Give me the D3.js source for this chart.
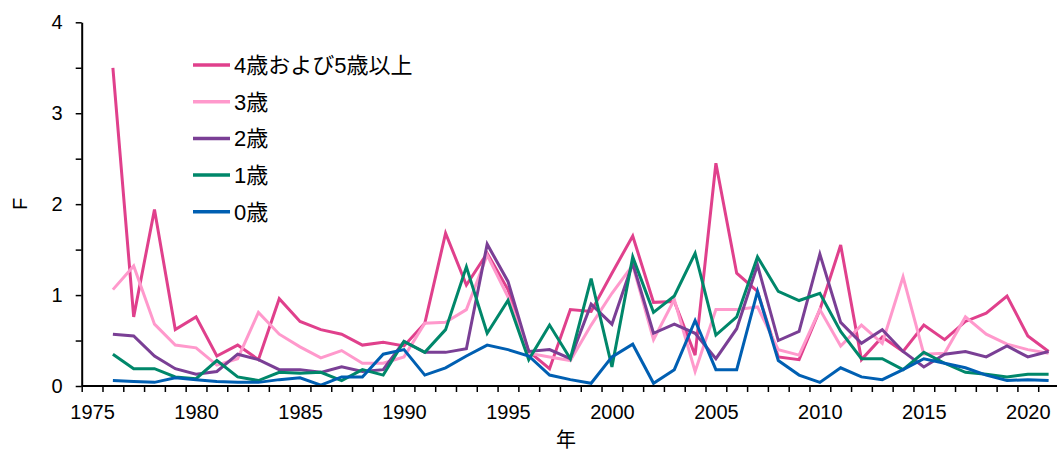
<!DOCTYPE html>
<html>
<head>
<meta charset="utf-8">
<script src="https://cdn.jsdelivr.net/npm/d3@7"></script>
<style>
  html, body { margin: 0; padding: 0; background: #fff; }
  svg { display: block; }
  text { font-family: "Liberation Sans", Arial, "Noto Sans CJK JP", sans-serif; fill: #000; }
</style>
</head>
<body>
<svg id="chart" width="1057" height="454"></svg>
<script>
// ---- data ----
const years = d3.range(1976, 2022);
const seriesNames = ["4歳および5歳以上", "3歳", "2歳", "1歳", "0歳"];
const age4plus = [3.50,0.76,1.94,0.62,0.76,0.33,0.45,0.29,0.96,0.71,0.62,0.57,0.45,0.48,0.44,
  0.69,1.68,1.11,1.46,1.06,0.38,0.19,0.84,0.82,1.24,1.65,0.92,0.93,0.34,2.45,1.24,1.04,0.32,0.29,0.84,
  1.55,0.29,0.54,0.38,0.67,0.51,0.71,0.80,0.99,0.55,0.38];
const age3 = [1.06,1.32,0.68,0.45,0.42,0.23,0.30,0.81,0.57,0.43,0.31,0.39,0.25,0.25,0.32,
  0.69,0.70,0.84,1.44,0.98,0.36,0.32,0.28,0.67,1.02,1.33,0.51,0.95,0.16,0.84,0.84,0.87,0.40,0.34,0.84,
  0.44,0.67,0.47,1.20,0.35,0.36,0.76,0.57,0.46,0.40,0.36];
const age2 = [0.57,0.55,0.33,0.19,0.13,0.16,0.35,0.29,0.18,0.18,0.15,0.21,0.16,0.18,0.49,
  0.37,0.37,0.41,1.56,1.15,0.38,0.40,0.30,0.90,0.68,1.35,0.58,0.68,0.58,0.30,0.63,1.33,0.50,0.60,1.45,
  0.70,0.47,0.62,0.38,0.21,0.35,0.38,0.32,0.44,0.32,0.38];
const age1 = [0.35,0.19,0.19,0.10,0.08,0.28,0.10,0.06,0.15,0.14,0.15,0.06,0.18,0.12,0.49,
  0.37,0.62,1.31,0.58,0.94,0.29,0.67,0.30,1.18,0.21,1.42,0.81,0.99,1.46,0.56,0.76,1.42,1.04,0.94,1.02,
  0.60,0.30,0.30,0.18,0.37,0.25,0.15,0.13,0.10,0.13,0.13];
const age0 = [0.06,0.05,0.04,0.09,0.07,0.05,0.04,0.04,0.07,0.09,0.01,0.10,0.10,0.35,0.40,
  0.12,0.20,0.33,0.45,0.40,0.33,0.12,0.07,0.03,0.32,0.46,0.03,0.18,0.72,0.18,0.18,1.04,0.28,0.12,0.04,
  0.20,0.10,0.07,0.18,0.30,0.25,0.20,0.12,0.06,0.07,0.06];
const seriesValues = [age4plus, age3, age2, age1, age0];
const colors = ["#e0408c", "#ff99cc", "#7a3f95", "#00876a", "#005fb2"];
const xLabelYears = [1975, 1980, 1985, 1990, 1995, 2000, 2005, 2010, 2015, 2020];
const yLabels = [0, 1, 2, 3, 4];

// ---- layout ----
const svg = d3.select("#chart");
const plotLeft = 81.7, plotRight = 1059, plotTop = 22.3, plotBottom = 386;
const x = d3.scaleLinear().domain([1974.5, 2021.5]).range([plotLeft, plotRight]);
const y = d3.scaleLinear().domain([0, 4]).range([plotBottom, plotTop]);

// lines
const line = d3.line().x((d, i) => x(years[i])).y(d => y(d));
seriesValues.forEach((vals, k) => {
  svg.append("path")
    .datum(vals)
    .attr("fill", "none")
    .attr("stroke", colors[k])
    .attr("stroke-width", 3)
    .attr("stroke-linejoin", "miter")
    .attr("d", line);
});

// x axis: tick marks at category boundaries
const bounds = d3.range(1974.5, 2022, 1);
const xTicks = svg.append("g").attr("transform", `translate(0,${plotBottom})`)
  .call(d3.axisBottom(x).tickValues(bounds).tickFormat("").tickSize(6).tickSizeOuter(0));
xTicks.select(".domain").remove();
xTicks.selectAll("line").attr("stroke", "#000").attr("stroke-width", 1.5);
const xLab = svg.append("g").attr("transform", `translate(0,${plotBottom})`)
  .call(d3.axisBottom(x).tickValues(xLabelYears).tickFormat(d3.format("d")).tickSize(0).tickPadding(19));
xLab.select(".domain").remove();
xLab.selectAll("text").style("font-size", "20px");
svg.append("line").attr("x1", plotLeft).attr("x2", plotRight).attr("y1", plotBottom).attr("y2", plotBottom)
  .attr("stroke", "#000").attr("stroke-width", 2);

// y axis
const yAx = svg.append("g").attr("transform", `translate(${plotLeft},0)`)
  .call(d3.axisLeft(y).tickValues(d3.range(0, 4.01, 0.5))
    .tickFormat(d => yLabels.includes(d) ? d3.format("d")(d) : "")
    .tickSize(6).tickSizeOuter(0).tickPadding(13));
yAx.select(".domain").attr("stroke", "#000").attr("stroke-width", 2);
yAx.selectAll("line").attr("stroke", "#000").attr("stroke-width", 1.5);
yAx.selectAll("text").style("font-size", "20px");

// axis titles
svg.append("text").attr("x", 566).attr("y", 447).attr("text-anchor", "middle")
  .style("font-size", "20px").text("年");
svg.append("text").attr("transform", "translate(27,204) rotate(-90)").attr("text-anchor", "middle")
  .style("font-size", "20px").text("F");

// legend
const lg = svg.append("g");
seriesNames.forEach((name, k) => {
  const ly = 65 + k * 36.7;
  lg.append("line").attr("x1", 193).attr("x2", 230).attr("y1", ly).attr("y2", ly)
    .attr("stroke", colors[k]).attr("stroke-width", 3.5);
  lg.append("text").attr("x", 234).attr("y", ly).attr("dy", "0.36em")
    .style("font-size", "22px").text(name);
});
</script>
</body>
</html>
